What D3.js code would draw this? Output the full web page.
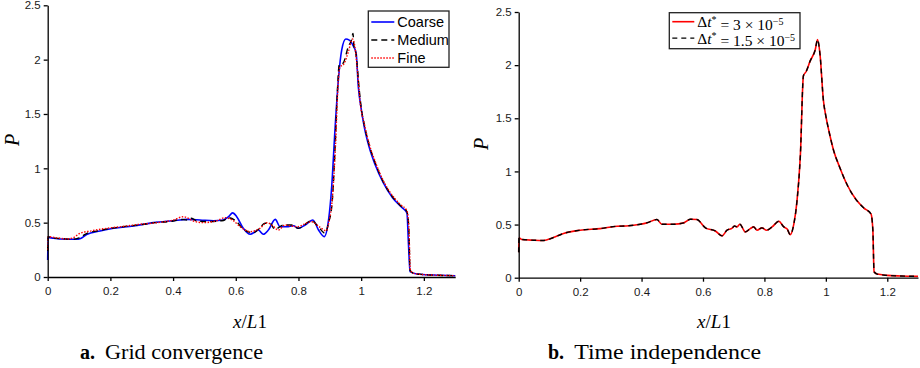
<!DOCTYPE html>
<html>
<head>
<meta charset="utf-8">
<script src="https://cdn.jsdelivr.net/npm/d3@7"></script>
<style>
  body { margin: 0; background: #fff; }
  svg { display: block; }
  .tick text { font-family: "Liberation Sans", Arial, sans-serif; font-size: 11.5px; fill: #1a1a1a; }
</style>
</head>
<body>
<svg id="fig" width="920" height="368"></svg>
<script>
"use strict";

// ---- data ----
var xTicks = [0, 0.2, 0.4, 0.6, 0.8, 1, 1.2]
var yTicks = [0, 0.5, 1, 1.5, 2, 2.5]

var coarseX = [0, 0.001, 0.018, 0.06, 0.09, 0.105, 0.124, 0.167, 0.21, 0.273, 0.337, 0.4, 0.444, 0.486, 0.529, 0.56, 0.577, 0.59, 0.603, 0.624, 0.646, 0.662, 0.672, 0.688, 0.704, 0.726, 0.741, 0.763, 0.784, 0.8, 0.821, 0.846, 0.864, 0.882, 0.896, 0.906, 0.917, 0.928, 0.938, 0.951, 0.962, 0.976, 0.984, 0.991, 1.0, 1.01, 1.025, 1.045, 1.07, 1.1, 1.13, 1.146, 1.151, 1.156, 1.178, 1.231, 1.3]
var coarseP = [0.156, 0.365, 0.356, 0.347, 0.347, 0.355, 0.39, 0.423, 0.448, 0.469, 0.5, 0.518, 0.53, 0.525, 0.518, 0.525, 0.555, 0.59, 0.555, 0.448, 0.393, 0.417, 0.432, 0.393, 0.432, 0.53, 0.463, 0.463, 0.472, 0.448, 0.478, 0.525, 0.432, 0.371, 0.525, 0.831, 1.38, 1.84, 2.09, 2.19, 2.18, 2.12, 2.06, 1.75, 1.55, 1.38, 1.2, 1.03, 0.87, 0.73, 0.64, 0.59, 0.3, 0.05, 0.028, 0.018, 0.012]

var mediumX = [0, 0.001, 0.02, 0.05, 0.082, 0.1, 0.124, 0.16, 0.2, 0.241, 0.3, 0.34, 0.4, 0.422, 0.445, 0.459, 0.476, 0.51, 0.561, 0.576, 0.603, 0.624, 0.656, 0.676, 0.693, 0.709, 0.725, 0.752, 0.778, 0.8, 0.842, 0.863, 0.885, 0.896, 0.907, 0.917, 0.924, 0.93, 0.943, 0.959, 0.969, 0.974, 0.977, 0.983, 0.994, 1.0, 1.01, 1.025, 1.045, 1.07, 1.097, 1.124, 1.146, 1.152, 1.156, 1.167, 1.2, 1.243, 1.3]
var mediumP = [0.24, 0.37, 0.358, 0.352, 0.347, 0.36, 0.4, 0.425, 0.447, 0.463, 0.482, 0.5, 0.515, 0.53, 0.525, 0.54, 0.515, 0.51, 0.52, 0.546, 0.509, 0.439, 0.408, 0.45, 0.494, 0.494, 0.439, 0.478, 0.478, 0.448, 0.518, 0.463, 0.402, 0.5, 0.67, 1.2, 1.7, 1.95, 1.97, 2.12, 2.18, 2.24, 2.12, 2.06, 1.72, 1.56, 1.4, 1.22, 1.05, 0.88, 0.75, 0.66, 0.6, 0.45, 0.06, 0.034, 0.022, 0.016, 0.012]

var fineX = [0, 0.001, 0.03, 0.061, 0.08, 0.103, 0.14, 0.188, 0.24, 0.294, 0.35, 0.4, 0.433, 0.465, 0.496, 0.539, 0.566, 0.592, 0.614, 0.646, 0.677, 0.699, 0.715, 0.736, 0.757, 0.795, 0.842, 0.869, 0.888, 0.898, 0.908, 0.918, 0.926, 0.932, 0.945, 0.96, 0.972, 0.98, 0.988, 0.997, 1.01, 1.025, 1.045, 1.07, 1.097, 1.124, 1.146, 1.152, 1.157, 1.17, 1.2, 1.25, 1.3]
var fineP = [0.25, 0.371, 0.36, 0.35, 0.36, 0.402, 0.425, 0.448, 0.465, 0.485, 0.5, 0.524, 0.555, 0.515, 0.5, 0.518, 0.546, 0.518, 0.463, 0.417, 0.448, 0.5, 0.478, 0.432, 0.478, 0.463, 0.509, 0.457, 0.426, 0.52, 0.72, 1.2, 1.75, 1.93, 1.96, 2.08, 2.19, 2.12, 1.9, 1.6, 1.41, 1.23, 1.06, 0.89, 0.76, 0.67, 0.61, 0.46, 0.06, 0.032, 0.022, 0.016, 0.012]

var timeX = [0, 0.001, 0.01, 0.048, 0.08, 0.113, 0.146, 0.2, 0.265, 0.32, 0.35, 0.396, 0.417, 0.45, 0.466, 0.504, 0.537, 0.559, 0.58, 0.608, 0.64, 0.662, 0.678, 0.695, 0.702, 0.711, 0.72, 0.738, 0.754, 0.765, 0.776, 0.792, 0.807, 0.825, 0.847, 0.863, 0.874, 0.884, 0.896, 0.906, 0.917, 0.927, 0.936, 0.949, 0.965, 0.973, 0.981, 0.992, 1.0, 1.01, 1.025, 1.045, 1.07, 1.097, 1.124, 1.147, 1.153, 1.157, 1.167, 1.2, 1.243, 1.3]
var dt3P = [0.24, 0.375, 0.36, 0.353, 0.35, 0.378, 0.416, 0.447, 0.462, 0.484, 0.487, 0.503, 0.516, 0.547, 0.503, 0.503, 0.516, 0.55, 0.547, 0.469, 0.44, 0.394, 0.447, 0.466, 0.487, 0.478, 0.503, 0.431, 0.462, 0.478, 0.447, 0.469, 0.447, 0.478, 0.531, 0.478, 0.459, 0.405, 0.509, 0.72, 1.15, 1.9, 1.94, 2.04, 2.14, 2.24, 2.1, 1.67, 1.52, 1.38, 1.2, 1.04, 0.87, 0.74, 0.655, 0.6, 0.45, 0.056, 0.034, 0.022, 0.016, 0.0125]
var dt15P = [0.24, 0.375, 0.36, 0.353, 0.35, 0.378, 0.416, 0.447, 0.462, 0.484, 0.487, 0.503, 0.516, 0.547, 0.503, 0.503, 0.516, 0.55, 0.547, 0.469, 0.44, 0.394, 0.447, 0.466, 0.487, 0.478, 0.503, 0.431, 0.462, 0.478, 0.447, 0.469, 0.447, 0.478, 0.531, 0.478, 0.459, 0.405, 0.509, 0.72, 1.15, 1.9, 1.94, 2.04, 2.14, 2.24, 2.1, 1.67, 1.52, 1.38, 1.2, 1.04, 0.87, 0.74, 0.655, 0.6, 0.45, 0.056, 0.034, 0.022, 0.016, 0.0125]

function zipSeries(xs, ps) {
    return xs.map((x, i) => ({x: x, p: ps[i]}))
}

var svg = d3.select("#fig")

function drawPanel(frame, series) {
    var x = d3.scaleLinear().domain([0, 1.3]).range([frame.left, frame.right])
    var y = d3.scaleLinear().domain([0, 2.5]).range([frame.bottom, frame.top])

    var g = svg.append("g")

    var line = d3.line().curve(d3.curveMonotoneX).x(d => x(d.x)).y(d => y(d.p))

    series.forEach(s => {
        g.append("path")
            .datum(s.data)
            .attr("fill", "none")
            .attr("stroke", s.color)
            .attr("stroke-width", s.width)
            .attr("stroke-dasharray", s.dash)
            .attr("stroke-linejoin", "round")
            .attr("d", line)
    })

    g.append("g")
        .attr("transform", "translate(0," + frame.bottom + ")")
        .call(d3.axisBottom(x).tickValues(xTicks).tickFormat(d3.format("")).tickSize(4).tickSizeOuter(0).tickPadding(6))
    g.append("g")
        .attr("transform", "translate(" + frame.left + ",0)")
        .call(d3.axisLeft(y).tickValues(yTicks).tickFormat(d3.format("")).tickSize(4).tickSizeOuter(0).tickPadding(3))
    g.selectAll(".domain, .tick line").attr("stroke", "#000").attr("stroke-width", 1.3)

    // axis titles
    var xl = g.append("text")
        .attr("x", frame.xLabelX).attr("y", 328)
        .attr("text-anchor", "middle")
        .style("font-family", "'Liberation Serif', serif")
        .style("font-size", "19px")
    xl.append("tspan").style("font-style", "italic").text("x")
    xl.append("tspan").text("/")
    xl.append("tspan").style("font-style", "italic").text("L")
    xl.append("tspan").text("1")

    g.append("text")
        .attr("transform", "translate(" + frame.yLabelX + "," + frame.yLabelY + ") rotate(-90)")
        .attr("text-anchor", "middle")
        .attr("dy", "0.35em")
        .style("font-family", "'Liberation Serif', serif")
        .style("font-style", "italic")
        .style("font-size", "20px")
        .text("P")

    return g
}

function drawLegend(box, entries) {
    var lg = svg.append("g")
    lg.append("rect")
        .attr("x", box.x).attr("y", box.y)
        .attr("width", box.w).attr("height", box.h)
        .attr("fill", "#fff").attr("stroke", "#222").attr("stroke-width", 1.3)
    entries.forEach((e, i) => {
        var yy = box.y + box.first + i * box.step
        e.strokes.forEach(s => {
            lg.append("line")
                .attr("x1", box.x + 3).attr("x2", box.x + 3 + box.sample)
                .attr("y1", yy).attr("y2", yy)
                .attr("stroke", s.color).attr("stroke-width", s.width)
                .attr("stroke-dasharray", s.dash)
        })
        var t = lg.append("text")
            .attr("x", box.x + box.sample + 6).attr("y", yy)
            .attr("dy", "0.36em")
            .style("font-size", box.font)
        e.label(t)
    })
}

// ---- panel a ----
drawPanel({left: 47.7, right: 455.2, top: 5.3, bottom: 277, xLabelX: 250, yLabelX: 12, yLabelY: 140}, [
    {data: zipSeries(coarseX, coarseP), color: "#0000ff", width: 1.6, dash: null},
    {data: zipSeries(mediumX, mediumP), color: "#000", width: 1.4, dash: "6,4"},
    {data: zipSeries(fineX, fineP), color: "#ff0000", width: 1.4, dash: "1.5,1.5"}
])

var sansLabel = name => t => t.style("font-family", "'Liberation Sans', Arial, sans-serif").text(name)
drawLegend({x: 368.3, y: 11, w: 80.7, h: 56.3, first: 11, step: 18, sample: 23, font: "14.5px"}, [
    {strokes: [{color: "#0000ff", width: 1.6}], label: sansLabel("Coarse")},
    {strokes: [{color: "#000", width: 1.4, dash: "6,4"}], label: sansLabel("Medium")},
    {strokes: [{color: "#ff0000", width: 1.4, dash: "1.5,1.5"}], label: sansLabel("Fine")}
])

// ---- panel b ----
drawPanel({left: 518.7, right: 918, top: 12, bottom: 277.7, xLabelX: 714, yLabelX: 481, yLabelY: 144}, [
    {data: zipSeries(timeX, dt3P), color: "#ff0000", width: 1.6, dash: null},
    {data: zipSeries(timeX, dt15P), color: "#000", width: 1.4, dash: "5,4"}
])

function dtLabel(value) {
    return t => {
        t.style("font-family", "'Liberation Serif', serif")
        t.append("tspan").text("Δ")
        t.append("tspan").style("font-style", "italic").text("t")
        t.append("tspan").attr("dy", "-0.45em").style("font-size", "10px").text("*")
        t.append("tspan").attr("dy", "0.45em").text(" = " + value + " × 10")
        t.append("tspan").attr("dy", "-0.5em").style("font-size", "10px").text("−5")
    }
}

drawLegend({x: 669.3, y: 12.7, w: 130.7, h: 36, first: 9, step: 16.4, sample: 22, font: "15.5px"}, [
    {strokes: [{color: "#ff0000", width: 1.6}], label: dtLabel("3")},
    {strokes: [{color: "#000", width: 1.4, dash: "5,4"}], label: dtLabel("1.5")}
])

// ---- captions ----
function caption(xPos, letter, words, wordsWidth) {
    var t = svg.append("text")
        .attr("x", xPos).attr("y", 359)
        .style("font-family", "'Liberation Serif', serif")
        .style("font-size", "20px")
    t.append("tspan").style("font-weight", "bold").text(letter)
    t.append("tspan").attr("dx", 10).attr("textLength", wordsWidth).attr("lengthAdjust", "spacingAndGlyphs").text(words)
}
caption(80, "a.", "Grid convergence", 158)
caption(548, "b.", "Time independence", 187)
</script>
</body>
</html>
